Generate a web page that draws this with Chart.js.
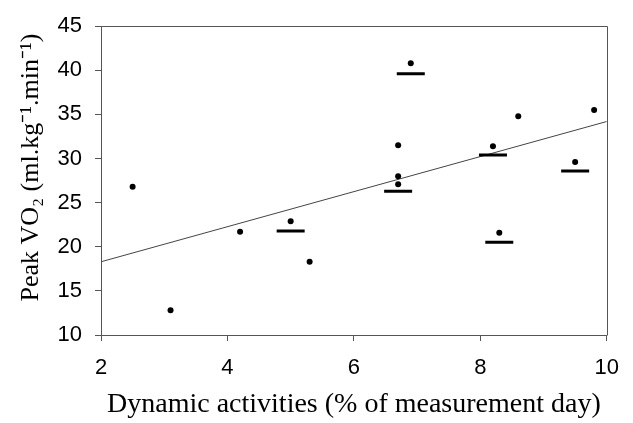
<!DOCTYPE html>
<html>
<head>
<meta charset="utf-8">
<script src="https://cdn.jsdelivr.net/npm/chart.js@4/dist/chart.umd.min.js"></script>
<style>
  html, body { margin: 0; padding: 0; background: #fff; }
  #wrap { width: 633px; height: 423px; }
</style>
</head>
<body>
<div id="wrap"><canvas id="vo2Chart" width="633" height="423"></canvas></div>
<script>
// individual measurements
const dotX = [2.5, 3.1, 4.2, 5.0, 5.3, 6.7, 6.7, 6.7, 6.9, 8.2, 8.3, 8.6, 9.5, 9.8];
const dotY = [26.8, 12.8, 21.7, 22.9, 18.3, 31.5, 28.0, 27.1, 40.8, 31.4, 21.6, 34.8, 29.6, 35.5];

// group means (horizontal bars)
const meanX = [5.0, 6.7, 6.9, 8.2, 8.3, 9.5];
const meanY = [21.8, 26.3, 39.6, 30.4, 20.5, 28.6];

// regression line end points
const fitX = [2, 10];
const fitY = [18.3, 34.2];

const xTicks = [2, 4, 6, 8, 10];
const yTicks = [10, 15, 20, 25, 30, 35, 40, 45];

const axisColor = '#555';

const toPoints = (xs, ys) => xs.map((x, i) => ({ x: x, y: ys[i] }));

// draws the top and right edge of the plot box
const frame = {
    id: 'frame',
    afterDraw(chart) {
        const { ctx, chartArea: a } = chart;
        ctx.save();
        ctx.strokeStyle = axisColor;
        ctx.lineWidth = 1;
        ctx.beginPath();
        ctx.moveTo(Math.round(a.left) + 0.5, Math.round(a.top) + 0.5);
        ctx.lineTo(Math.round(a.right) + 0.5, Math.round(a.top) + 0.5);
        ctx.lineTo(Math.round(a.right) + 0.5, Math.round(a.bottom) + 0.5);
        ctx.stroke();
        ctx.restore();
    }
};

const ctx = document.getElementById('vo2Chart').getContext('2d');

new Chart(ctx, {
    type: 'scatter',
    data: {
        datasets: [
            {
                label: 'fit',
                type: 'line',
                data: toPoints(fitX, fitY),
                borderColor: '#444',
                borderWidth: 1,
                pointRadius: 0,
                fill: false,
                order: 3
            },
            {
                label: 'mean',
                data: toPoints(meanX, meanY),
                pointStyle: 'line',
                pointRadius: 14,
                pointBorderWidth: 3,
                borderColor: '#000',
                backgroundColor: '#000',
                order: 2
            },
            {
                label: 'subjects',
                data: toPoints(dotX, dotY),
                pointStyle: 'circle',
                pointRadius: 3,
                pointBorderWidth: 0,
                backgroundColor: '#000',
                borderColor: '#000',
                order: 1
            }
        ]
    },
    options: {
        responsive: false,
        animation: false,
        layout: { padding: { top: 18, right: 22, left: 0, bottom: 0 } },
        plugins: {
            legend: { display: false },
            tooltip: { enabled: false }
        },
        scales: {
            x: {
                type: 'linear',
                min: 2,
                max: 10,
                afterBuildTicks: s => { s.ticks = xTicks.map(v => ({ value: v })); },
                afterFit: s => { s.height = 88; },
                grid: { drawOnChartArea: false, drawTicks: true, tickLength: 6, color: axisColor },
                border: { display: true, color: axisColor, width: 1 },
                ticks: {
                    color: '#000',
                    padding: 14,
                    font: { family: 'Liberation Sans, Arial', size: 22 }
                },
                title: {
                    display: true,
                    text: 'Dynamic activities (% of measurement day)',
                    color: '#000',
                    padding: { top: 0, bottom: 2 },
                    font: { family: 'Liberation Serif, Times New Roman', size: 28 }
                }
            },
            y: {
                type: 'linear',
                min: 10,
                max: 45,
                afterBuildTicks: s => { s.ticks = yTicks.map(v => ({ value: v })); },
                afterFit: s => { s.width = 101; },
                grid: { drawOnChartArea: false, drawTicks: true, tickLength: 6, color: axisColor },
                border: { display: true, color: axisColor, width: 1 },
                ticks: {
                    color: '#000',
                    padding: 13,
                    font: { family: 'Liberation Sans, Arial', size: 22 }
                },
                title: {
                    display: true,
                    text: '\u2002\u2002Peak VO\u2082 (ml.kg\u207B\u00B9.min\u207B\u00B9)',
                    color: '#000',
                    padding: { top: 16, bottom: 0 },
                    font: { family: 'Liberation Serif, Times New Roman', size: 26 }
                }
            }
        }
    },
    plugins: [frame]
});
</script>
</body>
</html>
